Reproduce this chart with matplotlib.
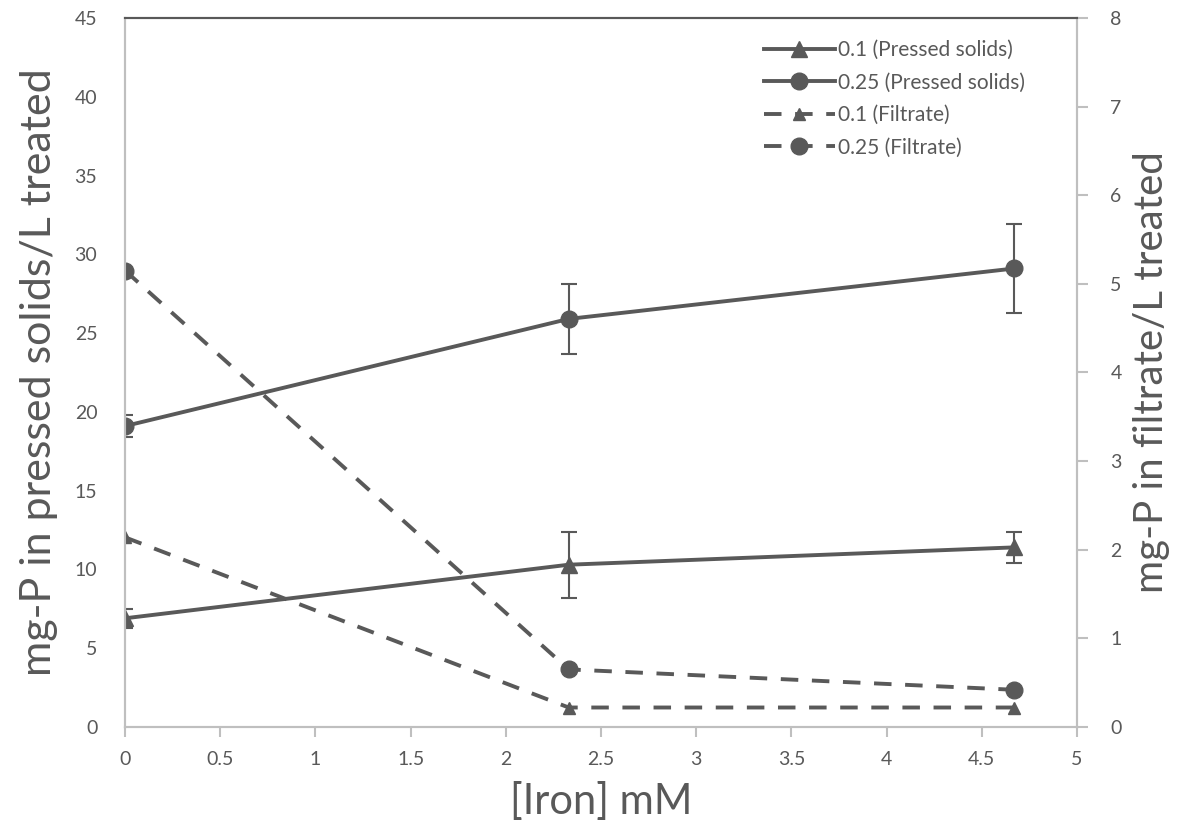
import matplotlib.pyplot as plt
from matplotlib.lines import Line2D
import numpy as np

plt.rcParams["font.family"] = ["Lato", "DejaVu Sans"]

iron = [0, 2.33, 4.67]

solids_01 = [6.9, 10.3, 11.4]
solids_01_err = [0.6, 2.1, 1.0]
solids_025 = [19.1, 25.9, 29.1]
solids_025_err = [0.7, 2.2, 2.8]

filtrate_01 = [2.14, 0.22, 0.22]
filtrate_025 = [5.15, 0.65, 0.42]

x_ticks = [0, 0.5, 1, 1.5, 2, 2.5, 3, 3.5, 4, 4.5, 5]
x_labels = ["0", "0.5", "1", "1.5", "2", "2.5", "3", "3.5", "4", "4.5", "5"]
legend_labels = ["0.1 (Pressed solids)", "0.25 (Pressed solids)", "0.1 (Filtrate)", "0.25 (Filtrate)"]

line_c = "#595959"
axis_c = "#BFBFBF"
text_c = "#595959"
dash = (0, (4.5, 3.5))

fig = plt.figure(figsize=(11.82, 8.32), dpi=100)
ax = fig.add_axes([0.1058, 0.1262, 0.8054, 0.8522])
ax2 = ax.twinx()

ax.errorbar(iron, solids_01, yerr=solids_01_err, color=line_c, lw=2.8,
            marker="^", ms=11, elinewidth=1.5, capsize=6, capthick=1.5)
ax.errorbar(iron, solids_025, yerr=solids_025_err, color=line_c, lw=2.8,
            marker="o", ms=12, elinewidth=1.5, capsize=6, capthick=1.5)
ax2.plot(iron, filtrate_01, color=line_c, lw=2.8, ls=dash, marker="^", ms=9)
ax2.plot(iron, filtrate_025, color=line_c, lw=2.8, ls=dash, marker="o", ms=12)

ax.set_xlim(0, 5)
ax.set_ylim(0, 45)
ax2.set_ylim(0, 8)
ax.set_xticks(x_ticks)
ax.set_xticklabels(x_labels)
ax.set_yticks(np.arange(0, 46, 5))
ax2.set_yticks(np.arange(0, 9, 1))

for a in (ax, ax2):
    for s in a.spines.values():
        s.set_color(axis_c)
        s.set_linewidth(1.5)
    a.spines["top"].set_color(line_c)
    a.spines["top"].set_linewidth(1.5)

ax.tick_params(axis="y", length=0, pad=20, labelsize=14, labelcolor=text_c)
ax.tick_params(axis="x", length=7, width=1.5, color=axis_c, pad=10,
               labelsize=14, labelcolor=text_c, direction="out")
ax2.tick_params(axis="y", length=8, width=1.5, color=axis_c, pad=16,
                labelsize=14, labelcolor=text_c, direction="out")

ax.set_xlabel("[Iron] mM", fontsize=30, color=text_c, labelpad=10)
ax.set_ylabel("mg-P in pressed solids/L treated", fontsize=31, color=text_c, labelpad=12)
ax2.set_ylabel("mg-P in filtrate/L treated", fontsize=29, color=text_c, labelpad=8)

handles = [
    Line2D([], [], color=line_c, lw=2.8, marker="^", ms=11),
    Line2D([], [], color=line_c, lw=2.8, marker="o", ms=12),
    Line2D([], [], color=line_c, lw=2.8, ls=dash, marker="^", ms=9),
    Line2D([], [], color=line_c, lw=2.8, ls=dash, marker="o", ms=12),
]
leg = ax2.legend(handles, legend_labels, loc="upper right", bbox_to_anchor=(0.965, 0.995),
                 frameon=False, fontsize=15, handlelength=3.4, handletextpad=0.15,
                 labelspacing=0.6)
for t in leg.get_texts():
    t.set_color(text_c)

fig.savefig("out.png", dpi=100)
